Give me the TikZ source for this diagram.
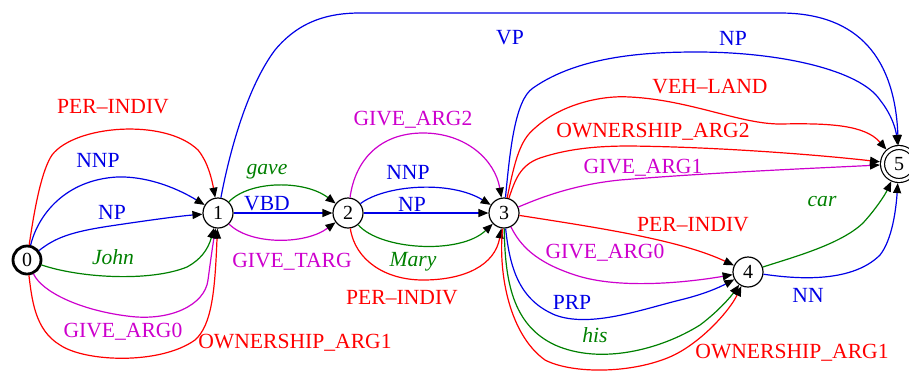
\documentclass[tikz,border=0pt]{standalone}
\usepackage{fontspec}
\setmainfont{Liberation Serif}
\usetikzlibrary{arrows.meta}
\definecolor{cred}{RGB}{255,0,0}
\definecolor{cblue}{RGB}{0,0,230}
\definecolor{cgreen}{RGB}{0,128,0}
\definecolor{cmag}{RGB}{205,0,205}
\tikzset{
  st/.style={circle, draw, line width=0.6pt, minimum size=15pt, inner sep=0pt, font=\fontsize{10}{12}\selectfont},
  lab/.style={font=\fontsize{10.8}{13}\selectfont, inner sep=0pt},
  ed/.style={line width=0.6pt, -{Triangle[length=5pt,width=4pt,color=black]}},
}
\begin{document}
\begin{tikzpicture}[x=0.5pt,y=-0.5pt]
\useasboundingbox (0,0) rectangle (909,371);
% states
\node[st, line width=1.4pt, minimum size=14pt] (n0) at (27,260) {0};
\node[st] (n1) at (218,213) {1};
\node[st] (n2) at (348,213) {2};
\node[st] (n3) at (504,213) {3};
\node[st] (n4) at (748,272) {4};
\node[st, double, double distance=1.4pt, minimum size=16.5pt, outer sep=1.3pt] (n5) at (899,164) {5};

% 0 -> 1
\draw[ed, cred] (n0) .. controls (35,205) and (42,170) .. (52,155) .. controls (75,125) and (165,118) .. (198,150) .. controls (208,162) and (212,180) .. (n1);
\node[lab, text=cred] (l01a) at (113,107) {PER–INDIV};
\draw[ed, cblue] (n0) .. controls (38,215) and (65,180) .. (117,177) .. controls (150,176) and (180,190) .. (n1);
\node[lab, text=cblue] (l01b) at (98,160) {NNP};
\draw[ed, cblue] (n0) .. controls (55,238) and (70,232) .. (110,226) .. controls (150,220) and (180,216) .. (n1);
\node[lab, text=cblue] (l01c) at (112,212) {NP};
\draw[ed, cgreen] (n0) .. controls (80,278) and (150,282) .. (187,267) .. controls (200,260) and (208,250) .. (n1);
\node[lab, text=cgreen] (l01d) at (113,257) {\itshape John};
\draw[ed, cmag] (n0) .. controls (42,292) and (80,310) .. (127,316) .. controls (170,322) and (205,305) .. (208,280) .. controls (210,265) and (212,250) .. (n1);
\node[lab, text=cmag] (l01e) at (123,332) {GIVE\_ARG0};
\draw[ed, cred] (n0) .. controls (32,300) and (35,330) .. (60,345) .. controls (85,362) and (160,365) .. (195,340) .. controls (212,325) and (215,290) .. (n1);
\node[lab, text=cred] (l01f) at (295,343) {OWNERSHIP\_ARG1};

% 1 -> 5
\draw[ed, cblue] (n1) .. controls (228,160) and (245,90) .. (275,50) .. controls (300,20) and (330,13) .. (360,13) -- (780,13) .. controls (860,13) and (895,60) .. (n5);
\node[lab, text=cblue] (l15) at (510,38) {VP};

% 1 -> 2
\draw[ed, cgreen] (n1) .. controls (250,180) and (305,180) .. (n2);
\node[lab, text=cgreen] (l12a) at (267,172) {\itshape gave};
\draw[ed, cblue] (n1) -- (n2);
\node[lab, text=cblue] (l12b) at (267,204) {VBD};
\draw[ed, cmag] (n1) .. controls (250,245) and (305,245) .. (n2);
\node[lab, text=cmag] (l12c) at (292,262) {GIVE\_TARG};

% 2 -> 3
\draw[ed, cmag] (n2) .. controls (355,160) and (380,133) .. (423,133) .. controls (466,133) and (495,160) .. (n3);
\node[lab, text=cmag] (l23a) at (413,120) {GIVE\_ARG2};
\draw[ed, cblue] (n2) .. controls (385,185) and (450,180) .. (n3);
\node[lab, text=cblue] (l23b) at (408,172) {NNP};
\draw[ed, cblue] (n2) -- (n3);
\node[lab, text=cblue] (l23c) at (412,204) {NP};
\draw[ed, cgreen] (n2) .. controls (380,250) and (460,255) .. (n3);
\node[lab, text=cgreen] (l23d) at (413,262) {\itshape Mary};
\draw[ed, cred] (n2) .. controls (355,260) and (385,280) .. (423,280) .. controls (465,280) and (495,265) .. (n3);
\node[lab, text=cred] (l23e) at (402,298) {PER–INDIV};

% 3 -> 5
\draw[ed, cblue] (n3) .. controls (510,150) and (515,100) .. (533,88) .. controls (580,55) and (650,52) .. (697,52) .. controls (780,52) and (860,70) .. (880,100) .. controls (892,115) and (896,130) .. (n5);
\node[lab, text=cblue] (l35a) at (733,38) {NP};
\draw[ed, cred] (n3) .. controls (515,160) and (520,140) .. (535,128) .. controls (560,105) and (600,95) .. (630,97) .. controls (690,100) and (740,124) .. (780,124) .. controls (830,123) and (865,125) .. (n5);
\node[lab, text=cred] (l35b) at (710,87) {VEH–LAND};
\draw[ed, cred] (n3) .. controls (515,180) and (520,165) .. (540,158) .. controls (570,148) and (600,146) .. (630,146) .. controls (720,147) and (820,155) .. (n5);
\node[lab, text=cred] (l35c) at (653,132) {OWNERSHIP\_ARG2};
\draw[ed, cmag] (n3) .. controls (535,200) and (570,185) .. (620,180) .. controls (720,172) and (820,168) .. (n5);
\node[lab, text=cmag] (l35d) at (643,168) {GIVE\_ARG1};

% 3 -> 4
\draw[ed, cred] (n3) .. controls (600,228) and (680,240) .. (n4);
\node[lab, text=cred] (l34a) at (693,225) {PER–INDIV};
\draw[ed, cmag] (n3) .. controls (520,245) and (535,262) .. (575,275) .. controls (620,290) and (690,282) .. (n4);
\node[lab, text=cmag] (l34b) at (605,253) {GIVE\_ARG0};
\draw[ed, cblue] (n3) .. controls (510,270) and (520,300) .. (555,315) .. controls (590,328) and (640,310) .. (680,300) .. controls (705,294) and (720,287) .. (n4);
\node[lab, text=cblue] (l34c) at (572,302) {PRP};
\draw[ed, cgreen] (n3) .. controls (505,280) and (512,325) .. (555,345) .. controls (600,365) and (660,350) .. (700,325) .. controls (720,310) and (732,295) .. (n4);
\node[lab, text=cgreen] (l34d) at (595,335) {\itshape his};
\draw[ed, cred] (n3) .. controls (498,275) and (510,335) .. (545,360) .. controls (572,374) and (632,374) .. (672,356) .. controls (702,342) and (730,310) .. (n4);
\node[lab, text=cred] (l34e) at (792,353) {OWNERSHIP\_ARG1};

% 4 -> 5
\draw[ed, cgreen] (n4) .. controls (790,258) and (840,245) .. (863,223) .. controls (875,210) and (885,195) .. (n5);
\node[lab, text=cgreen] (l45a) at (822,202) {\itshape car};
\draw[ed, cblue] (n4) .. controls (790,278) and (850,285) .. (880,255) .. controls (892,240) and (896,210) .. (n5);
\node[lab, text=cblue] (l45b) at (808,295) {NN};
\end{tikzpicture}
\end{document}
